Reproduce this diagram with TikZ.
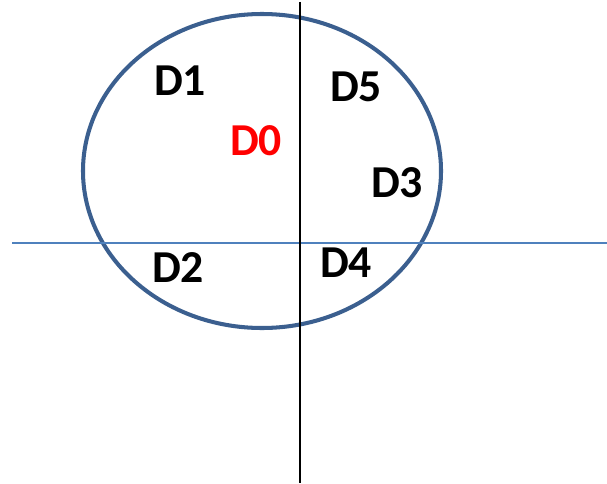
\documentclass[tikz,border=0pt]{standalone}
\usepackage{fontspec}
\setmainfont{Carlito}
\definecolor{ringblue}{HTML}{3B5F8F}
\definecolor{axisblue}{HTML}{4F81BD}
\begin{document}
\begin{tikzpicture}[x=0.02cm, y=-0.02cm,
  lbl/.style={font=\fontsize{26}{30}\selectfont\bfseries, inner sep=0pt}]
  \useasboundingbox (0,0) rectangle (607,483);
  \coordinate (C) at (262,171);
  \coordinate (VT) at (300,2); \coordinate (VB) at (300,483);
  \coordinate (HL) at (12,243); \coordinate (HR) at (607,243);
  % region boundary
  \draw[ringblue, line width=2.3pt] (C) ellipse[x radius=179, y radius=157];
  % axes
  \draw[axisblue, line width=0.8pt] (HL) -- (HR);
  \draw[black, line width=0.8pt] (VT) -- (VB);
  % labels
  \node[lbl] (d1) at (180,81) {D1};
  \node[lbl, red] (d0) at (256,141) {D0};
  \node[lbl] (d5) at (356,87) {D5};
  \node[lbl] (d3) at (397,183) {D3};
  \node[lbl] (d2) at (178,268) {D2};
  \node[lbl] (d4) at (346,263) {D4};
\end{tikzpicture}
\end{document}
